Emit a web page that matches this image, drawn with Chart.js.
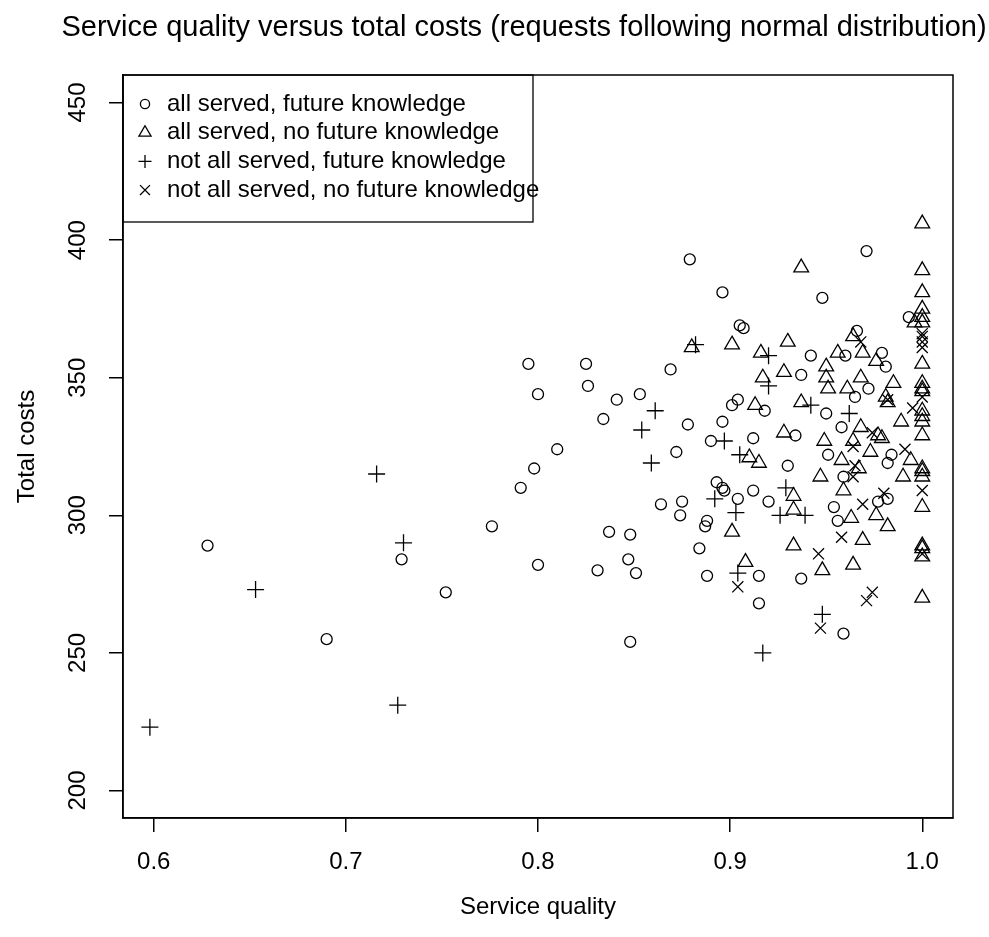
<!DOCTYPE html>
<html>
<head>
<meta charset="utf-8">
<script src="https://cdn.jsdelivr.net/npm/chart.js@4/dist/chart.umd.min.js"></script>
<style>
  body { margin: 0; background: #fff; }
</style>
</head>
<body>
<canvas id="chart" width="989" height="937"></canvas>
<script>
const chartTitle = "Service quality versus total costs (requests following normal distribution)";
const xTitle = "Service quality";
const yTitle = "Total costs";
const xTicks = [0.6, 0.7, 0.8, 0.9, 1.0];
const yTicks = [200, 250, 300, 350, 400, 450];
const seriesNames = [
  "all served, future knowledge",
  "all served, no future knowledge",
  "not all served, future knowledge",
  "not all served, no future knowledge"
];

// [service quality, total costs]
const allServedFuture = [
  [0.628,289],[0.690,255],[0.729,284],[0.752,272],[0.776,296],[0.791,310],[0.795,355],[0.798,317],
  [0.800,344],[0.800,282],[0.810,324],[0.825,355],[0.826,347],[0.831,280],[0.834,335],[0.837,294],
  [0.841,342],[0.847,284],[0.848,293],[0.848,254],[0.851,279],[0.853,344],[0.864,304],[0.869,353],
  [0.872,323],[0.874,300],[0.875,305],[0.878,333],[0.879,393],[0.884,288],[0.887,296],[0.888,298],
  [0.888,278],[0.890,327],[0.893,312],[0.896,334],[0.896,310],[0.896,381],[0.897,309],[0.901,340],
  [0.904,342],[0.904,306],[0.905,369],[0.907,368],[0.912,309],[0.912,328],[0.915,268],[0.915,278],
  [0.918,338],[0.920,305],[0.930,318],[0.934,329],[0.937,351],[0.937,277],[0.942,358],[0.948,379],
  [0.950,337],[0.951,322],[0.954,303],[0.956,298],[0.958,332],[0.959,314],[0.960,358],[0.959,257],
  [0.965,343],[0.966,367],[0.971,396],[0.972,346],[0.977,305],[0.979,359],[0.981,354],[0.982,306],
  [0.982,319],[0.984,322],[0.993,372]
];
const allServedNoFuture = [
  [0.880,361],[0.901,362],[0.916,359],[0.930,363],[0.937,390],[0.917,350],[0.928,352],[0.913,340],
  [0.937,341],[0.928,330],[0.910,321],[0.915,319],[0.933,307],[0.933,302],[0.901,294],[0.933,289],
  [0.908,283],[0.947,314],[0.949,327],[0.950,354],[0.950,350],[0.951,346],[0.956,359],[0.964,365],
  [0.969,359],[0.976,356],[0.961,346],[0.968,350],[0.968,332],[0.964,327],[0.973,323],[0.958,320],
  [0.967,317],[0.959,309],[0.976,300],[0.982,296],[0.963,299],[0.969,291],[0.948,280],[0.964,282],
  [0.977,329],[0.981,343],[0.982,341],[0.985,348],[0.989,334],[0.979,328],[0.994,320],[0.990,314],
  [0.996,370],[1.0,406],[1.0,389],[1.0,381],[1.0,375],[1.0,372],[1.0,370],[1.0,355],[1.0,348],
  [1.0,346],[1.0,345],[1.0,338],[1.0,336],[1.0,334],[1.0,329],[1.0,317],[1.0,316],[1.0,314],
  [1.0,303],[1.0,289],[1.0,288],[1.0,285],[1.0,270]
];
const notAllServedFuture = [
  [0.598,223],[0.653,273],[0.716,315],[0.730,290],[0.727,231],[0.854,331],[0.861,338],[0.859,319],
  [0.882,362],[0.897,327],[0.892,306],[0.903,301],[0.905,322],[0.904,279],[0.917,250],[0.920,358],
  [0.920,347],[0.929,310],[0.926,300],[0.939,300],[0.942,340],[0.948,264],[0.962,337]
];
const notAllServedNoFuture = [
  [0.904,274],[0.946,286],[0.947,259],[0.968,363],[0.965,318],[0.964,314],[0.964,325],[0.974,330],
  [0.980,308],[0.969,304],[0.958,292],[0.974,272],[0.971,269],[0.982,342],[0.995,339],[0.991,324],
  [1.0,366],[1.0,365],[1.0,363],[1.0,361],[1.0,343],[1.0,309],[1.0,286]
];

const FONT = "'Liberation Sans', Arial, Helvetica, sans-serif";
Chart.defaults.font.family = FONT;
Chart.defaults.font.size = 24;
Chart.defaults.color = "#000";

const toPoints = (arr) => arr.map(([x, y]) => ({ x, y }));

function series(label, data, style, radius, legendRadius) {
  return {
    label,
    data: toPoints(data),
    pointStyle: style,
    pointRadius: radius,
    legendRadius,
    backgroundColor: "rgba(0,0,0,0)",
    borderColor: "#000",
    pointBorderWidth: 1.3,
    showLine: false
  };
}

// box round the plot, like R's box()
const boxPlugin = {
  id: "box",
  afterDraw(chart) {
    const { ctx, chartArea: a } = chart;
    ctx.save();
    ctx.strokeStyle = "#000";
    ctx.lineWidth = 1.5;
    ctx.strokeRect(a.left, a.top, a.right - a.left, a.bottom - a.top);
    ctx.restore();
  }
};

const titlePlugin = {
  id: "rtitle",
  afterDraw(chart) {
    const { ctx, chartArea: a } = chart;
    ctx.save();
    ctx.font = "29px " + FONT;
    ctx.fillStyle = "#000";
    ctx.textAlign = "center";
    ctx.textBaseline = "middle";
    ctx.fillText(chartTitle, (a.left + a.right) / 2 - 14, 28);
    ctx.restore();
  }
};

// top-left legend with a frame, drawn inside the plot
const legendPlugin = {
  id: "rlegend",
  afterDraw(chart) {
    const { ctx, chartArea: a } = chart;
    const rowH = 28.7;
    ctx.save();
    ctx.strokeStyle = "#000";
    ctx.lineWidth = 1.3;
    ctx.strokeRect(a.left, a.top, 410, 147);
    ctx.font = "24px " + FONT;
    ctx.fillStyle = "#000";
    ctx.textBaseline = "middle";
    ctx.textAlign = "left";
    chart.data.datasets.forEach((ds, i) => {
      const y = a.top + 29 + i * rowH;
      ctx.strokeStyle = "#000";
      ctx.fillStyle = "rgba(0,0,0,0)";
      Chart.helpers.drawPoint(ctx, {
        pointStyle: ds.pointStyle,
        radius: ds.legendRadius,
        rotation: 0,
        borderWidth: 1.2
      }, a.left + 22, y);
      ctx.fillStyle = "#000";
      ctx.fillText(ds.label, a.left + 44, y);
    });
    ctx.restore();
  }
};

const axisGrid = {
  drawOnChartArea: false,
  drawTicks: true,
  tickLength: 14,
  color: "#000",
  lineWidth: 1.5
};

new Chart(document.getElementById("chart").getContext("2d"), {
  type: "scatter",
  data: {
    datasets: [
      series(seriesNames[0], allServedFuture, "circle", 5.5, 4.6),
      series(seriesNames[1], allServedNoFuture, "triangle", 8.5, 7),
      series(seriesNames[2], notAllServedFuture, "cross", 8.5, 6.5),
      series(seriesNames[3], notAllServedNoFuture, "crossRot", 7.8, 7)
    ]
  },
  options: {
    responsive: false,
    animation: false,
    events: [],
    layout: { padding: { left: 0, right: 36, top: 75, bottom: 0 } },
    plugins: {
      legend: { display: false },
      title: { display: false },
      tooltip: { enabled: false }
    },
    scales: {
      x: {
        type: "linear",
        position: "bottom",
        min: 0.584,
        max: 1.016,
        afterBuildTicks: (s) => { s.ticks = xTicks.map((v) => ({ value: v })); },
        afterFit: (s) => { s.height = 119; },
        grid: axisGrid,
        border: { display: true, color: "#000", width: 1.5 },
        ticks: {
          padding: 16,
          maxRotation: 0,
          callback: (v) => Number(v).toFixed(1)
        },
        title: { display: true, text: xTitle, padding: { top: 0, bottom: 15 } }
      },
      y: {
        type: "linear",
        position: "left",
        min: 190,
        max: 460,
        afterBuildTicks: (s) => { s.ticks = yTicks.map((v) => ({ value: v })); },
        afterFit: (s) => { s.width = 123; },
        grid: axisGrid,
        border: { display: true, color: "#000", width: 1.5 },
        ticks: {
          padding: 11,
          minRotation: 90,
          maxRotation: 90,
          crossAlign: "center",
          callback: (v) => String(v)
        },
        title: { display: true, text: yTitle, padding: { top: 13, bottom: 0 } }
      }
    }
  },
  plugins: [boxPlugin, titlePlugin, legendPlugin]
});
</script>
</body>
</html>
